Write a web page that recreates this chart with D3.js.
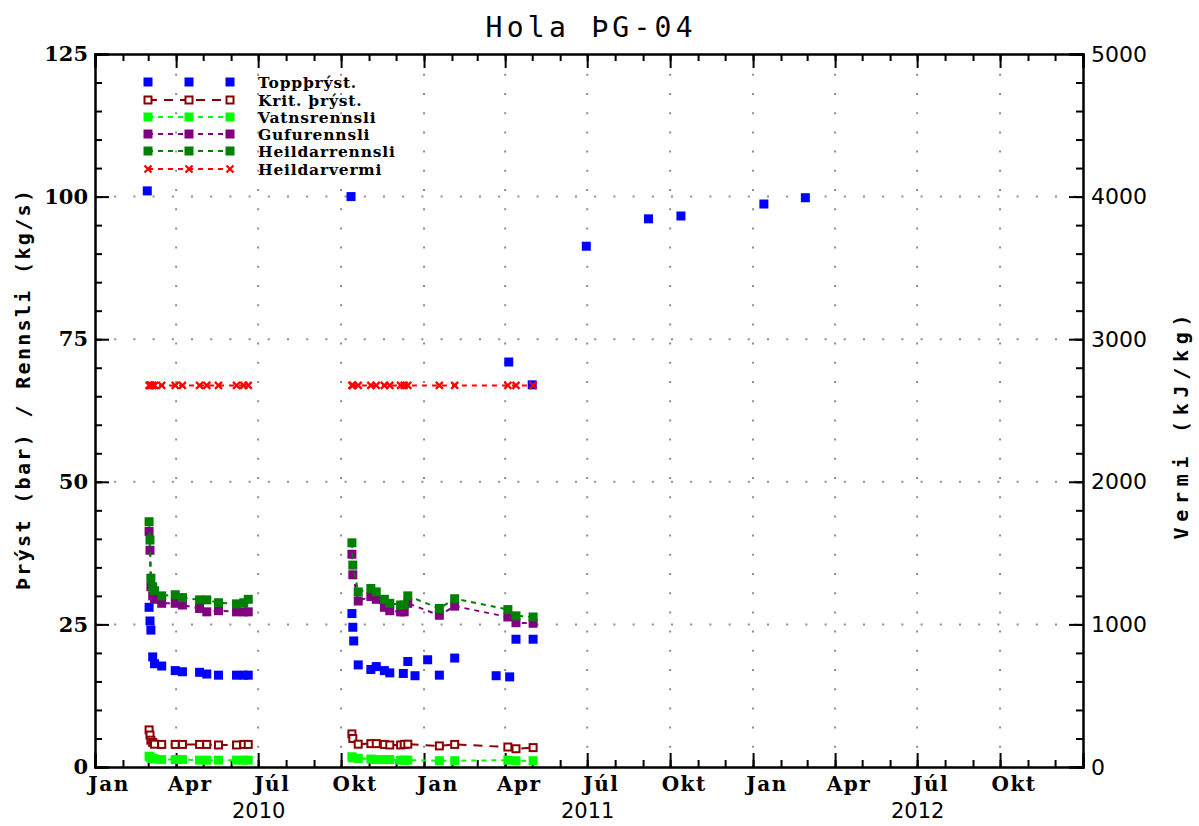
<!DOCTYPE html>
<html>
<head>
<meta charset="utf-8">
<script src="https://cdn.jsdelivr.net/npm/d3@7"></script>
<style>
  body { margin: 0; background: #fff; }
  svg { display: block; }
</style>
</head>
<body>
<svg id="chart" width="1199" height="826"></svg>
<script>
// ---- Data: well ÞG-04 ----
// Wellhead pressure (bar), own measurement dates
const toppDates = [
  "2010-02-28", "2010-03-02", "2010-03-03", "2010-03-04", "2010-03-06", "2010-03-08",
  "2010-03-16", "2010-03-31", "2010-04-08", "2010-04-27", "2010-05-05", "2010-05-18",
  "2010-06-07", "2010-06-15", "2010-06-20",
  "2010-10-12", "2010-10-13", "2010-10-14", "2010-10-15", "2010-10-20", "2010-11-03",
  "2010-11-09", "2010-11-18", "2010-11-24", "2010-12-09", "2010-12-14", "2010-12-22",
  "2011-01-05", "2011-01-18", "2011-02-04", "2011-03-22", "2011-04-05", "2011-04-06",
  "2011-04-13", "2011-05-01", "2011-05-02",
  "2011-06-30", "2011-09-07", "2011-10-13", "2012-01-13", "2012-02-28"
];
const toppValues = [
  101.0, 28.0, 25.6, 24.0, 19.3, 18.1,
  17.7, 16.9, 16.7, 16.6, 16.3, 16.1,
  16.1, 16.1, 16.1,
  100.0, 26.9, 24.5, 22.1, 17.9, 17.1,
  17.6, 16.9, 16.5, 16.4, 18.5, 16.0,
  18.8, 16.1, 19.1, 16.0, 71.0, 15.8,
  22.4, 67.0, 22.4,
  91.3, 96.1, 96.6, 98.7, 99.8
];

// Flow test dates shared by critical pressure, flows and enthalpy
const flowDates = [
  "2010-03-02", "2010-03-03", "2010-03-04", "2010-03-06", "2010-03-08", "2010-03-16",
  "2010-03-31", "2010-04-08", "2010-04-27", "2010-05-05", "2010-05-18", "2010-06-07",
  "2010-06-15", "2010-06-20",
  "2010-10-13", "2010-10-14", "2010-10-20", "2010-11-03", "2010-11-09", "2010-11-18",
  "2010-11-24", "2010-12-06", "2010-12-10", "2010-12-14", "2011-01-18", "2011-02-04",
  "2011-04-04", "2011-04-13", "2011-05-02"
];
const kritValues = [
  6.5, 5.6, 4.7, 4.3, 4.0, 3.96, 3.96, 3.96, 3.96, 3.96, 3.86, 3.86, 3.96, 3.96,
  5.8, 5.0, 4.0, 4.1, 4.1, 3.96, 3.86, 3.86, 3.96, 4.0, 3.7, 3.96, 3.5, 3.2, 3.4
];
const vatnValues = [
  1.9, 1.8, 1.6, 1.5, 1.4, 1.3, 1.3, 1.3, 1.2, 1.2, 1.2, 1.2, 1.2, 1.2,
  1.8, 1.6, 1.5, 1.4, 1.3, 1.3, 1.3, 1.2, 1.2, 1.2, 1.1, 1.1, 1.2, 1.1, 1.1
];
const gufuValues = [
  41.3, 38.0, 31.6, 30.0, 29.4, 28.7, 28.7, 28.4, 27.8, 27.2, 27.4, 27.2, 27.2, 27.2,
  37.3, 33.7, 29.1, 29.9, 29.4, 28.0, 27.4, 27.2, 27.2, 28.7, 26.6, 28.2, 26.3, 25.3, 25.2
];
const heildValues = [
  43.0, 39.8, 33.1, 31.6, 30.9, 30.0, 30.2, 29.7, 29.3, 29.3, 28.8, 28.6, 28.8, 29.4,
  39.3, 35.4, 30.7, 31.3, 30.7, 29.4, 28.7, 28.4, 28.4, 30.0, 27.8, 29.5, 27.6, 26.5, 26.3
];
const vermiValues = [
  2676, 2676, 2676, 2676, 2676, 2676, 2676, 2676, 2676, 2676, 2676, 2676, 2676, 2676,
  2676, 2676, 2676, 2676, 2676, 2676, 2676, 2676, 2676, 2676, 2676, 2676, 2676, 2676, 2676
];

// Axis labels
const monthLabels = ["Jan", "Apr", "Júl", "Okt"];
const yearLabels = ["2010", "2011", "2012"];
const leftTicks = [0, 25, 50, 75, 100, 125];
const rightTicks = [0, 1000, 2000, 3000, 4000, 5000];
const legendNames = ["Toppþrýst.", "Krit. þrýst.", "Vatnsrennsli", "Gufurennsli", "Heildarrennsli", "Heildarvermi"];

// ---- Layout ----
const svg = d3.select("#chart");
const L = 95, R = 1083, T = 54, B = 767;
const parse = d3.utcParse("%Y-%m-%d");
const x = d3.scaleUtc().domain([Date.UTC(2010, 0, 1), Date.UTC(2013, 0, 1)]).range([L, R]);
const yL = d3.scaleLinear().domain([0, 125]).range([B, T]);
const yR = d3.scaleLinear().domain([0, 5000]).range([B, T]);

const serifBold = "'DejaVu Serif', serif";
const monoBold = "'DejaVu Sans Mono', monospace";
const sans = "'DejaVu Sans', sans-serif";

// ---- Grid (dotted) ----
const quarters = d3.utcMonth.every(3).range(new Date(Date.UTC(2010, 0, 1)), new Date(Date.UTC(2013, 0, 1)))
  .filter(d => +d !== Date.UTC(2010, 0, 1));
const grid = svg.append("g").attr("stroke", "#8c8c8c").attr("stroke-width", 2)
  .attr("stroke-dasharray", "2,17.2");
grid.selectAll("line.v").data(quarters).join("line").attr("class", "v")
  .attr("x1", d => x(d)).attr("x2", d => x(d)).attr("y1", B).attr("y2", T);
grid.selectAll("line.h").data([25, 50, 75, 100]).join("line").attr("class", "h")
  .attr("x1", L).attr("x2", R).attr("y1", d => yL(d)).attr("y2", d => yL(d));

// ---- Axes ----
function styleAxis(g) {
  g.select(".domain").attr("stroke", "#000").attr("stroke-width", 2);
  g.selectAll(".tick line").attr("stroke", "#000").attr("stroke-width", 2);
}
const months = d3.utcMonth.range(new Date(Date.UTC(2010, 0, 1)), new Date(Date.UTC(2013, 0, 2)));
const quartersAll = d3.utcMonth.every(3).range(new Date(Date.UTC(2010, 0, 1)), new Date(Date.UTC(2013, 0, 2)));

// bottom: monthly minor ticks and quarterly major ticks pointing inward
svg.append("g").attr("transform", `translate(0,${B})`)
  .call(d3.axisBottom(x).tickValues(months).tickSize(-7).tickFormat(""))
  .call(styleAxis);
svg.append("g").attr("transform", `translate(0,${B})`)
  .call(d3.axisBottom(x).tickValues(quartersAll).tickSize(-14).tickFormat(""))
  .call(styleAxis);
// top
svg.append("g").attr("transform", `translate(0,${T})`)
  .call(d3.axisTop(x).tickValues(months).tickSize(-7).tickFormat(""))
  .call(styleAxis);
svg.append("g").attr("transform", `translate(0,${T})`)
  .call(d3.axisTop(x).tickValues(quartersAll).tickSize(-14).tickFormat(""))
  .call(styleAxis);

// month labels centred in the middle of the quarter's first month
const labelDates = quarters.concat([new Date(Date.UTC(2010, 0, 1))])
  .filter(d => d < Date.UTC(2013, 0, 1))
  .map(d => d3.utcDay.offset(d, 15));
const monthAxis = svg.append("g").attr("transform", `translate(0,${B})`)
  .call(d3.axisBottom(x).tickValues(labelDates).tickSize(0).tickPadding(10)
    .tickFormat(d => monthLabels[Math.floor(d.getUTCMonth() / 3)]));
monthAxis.select(".domain").remove();
monthAxis.selectAll("text").attr("font-family", serifBold).attr("font-weight", "bold")
  .attr("font-size", 20).attr("letter-spacing", 1.5).attr("fill", "#000");

// year labels at mid-year
const yearDates = yearLabels.map(y => new Date(Date.UTC(+y, 6, 1)));
const yearAxis = svg.append("g").attr("transform", `translate(0,${B})`)
  .call(d3.axisBottom(x).tickValues(yearDates).tickSize(0).tickPadding(36)
    .tickFormat((d, i) => yearLabels[i]));
yearAxis.select(".domain").remove();
yearAxis.selectAll("text").attr("font-family", sans).attr("font-size", 21).attr("fill", "#000");

// left axis
const minorLeft = d3.range(0, 126, 5);
svg.append("g").attr("transform", `translate(${L},0)`)
  .call(d3.axisLeft(yL).tickValues(minorLeft).tickSize(-7).tickFormat(""))
  .call(styleAxis);
const leftAxis = svg.append("g").attr("transform", `translate(${L},0)`)
  .call(d3.axisLeft(yL).tickValues(leftTicks).tickSize(-14).tickPadding(7).tickFormat(d3.format("d")))
  .call(styleAxis);
leftAxis.selectAll("text").attr("font-family", serifBold).attr("font-weight", "bold")
  .attr("font-size", 21).attr("fill", "#000");

// right axis
const minorRight = d3.range(0, 5001, 200);
svg.append("g").attr("transform", `translate(${R},0)`)
  .call(d3.axisRight(yR).tickValues(minorRight).tickSize(-7).tickFormat(""))
  .call(styleAxis);
const rightAxis = svg.append("g").attr("transform", `translate(${R},0)`)
  .call(d3.axisRight(yR).tickValues(rightTicks).tickSize(-14).tickPadding(8).tickFormat(d3.format("d")))
  .call(styleAxis);
rightAxis.selectAll("text").attr("font-family", sans).attr("font-size", 22).attr("fill", "#000");

// ---- Titles ----
svg.append("text").attr("x", 589).attr("y", 37).attr("text-anchor", "middle")
  .attr("font-family", monoBold).attr("font-size", 28)
  .attr("textLength", 207).attr("lengthAdjust", "spacing")
  .text("Hola ÞG-04");
svg.append("text").attr("transform", "translate(30,390) rotate(-90)").attr("text-anchor", "middle")
  .attr("font-family", monoBold).attr("font-weight", "bold").attr("font-size", 20)
  .attr("textLength", 400).attr("lengthAdjust", "spacing")
  .text("Þrýst (bar) / Rennsli (kg/s)");
svg.append("text").attr("transform", "translate(1188,427) rotate(-90)").attr("text-anchor", "middle")
  .attr("font-family", monoBold).attr("font-weight", "bold").attr("font-size", 20)
  .attr("textLength", 225).attr("lengthAdjust", "spacing")
  .text("Vermi (kJ/kg)");

// ---- Series ----
const toRows = (dates, vals) => dates.map((d, i) => ({ date: parse(d), v: vals[i] }));
// split a series into segments where the gap between tests exceeds 60 days
function segments(rows) {
  const out = [];
  let cur = [];
  rows.forEach((r, i) => {
    if (i > 0 && (r.date - rows[i - 1].date) > 60 * 864e5) { out.push(cur); cur = []; }
    cur.push(r);
  });
  if (cur.length) out.push(cur);
  return out;
}

const series = [
  { name: legendNames[0], rows: toRows(toppDates, toppValues), y: yL, color: "#0000ff", marker: "square", dash: null },
  { name: legendNames[1], rows: toRows(flowDates, kritValues), y: yL, color: "#8b0000", marker: "open", dash: "9,7" },
  { name: legendNames[2], rows: toRows(flowDates, vatnValues), y: yL, color: "#00ff00", marker: "square", dash: "5,5" },
  { name: legendNames[3], rows: toRows(flowDates, gufuValues), y: yL, color: "#800080", marker: "square", dash: "5,5" },
  { name: legendNames[4], rows: toRows(flowDates, heildValues), y: yL, color: "#008000", marker: "square", dash: "5,5" },
  { name: legendNames[5], rows: toRows(flowDates, vermiValues), y: yR, color: "#ff0000", marker: "cross", dash: "5,5" }
];

function drawMarker(g, kind, color) {
  if (kind === "square") {
    g.append("rect").attr("x", -4.5).attr("y", -4.5).attr("width", 9).attr("height", 9).attr("fill", color);
  } else if (kind === "open") {
    g.append("rect").attr("x", -3.5).attr("y", -3.5).attr("width", 7).attr("height", 7)
      .attr("fill", "#fff").attr("stroke", color).attr("stroke-width", 2);
  } else {
    g.append("path").attr("d", "M-3.5,-3.5L3.5,3.5M-3.5,3.5L3.5,-3.5").attr("stroke", color).attr("stroke-width", 2.2).attr("fill", "none");
  }
}

const plot = svg.append("g");
series.forEach(s => {
  const g = plot.append("g");
  if (s.dash) {
    const line = d3.line().x(d => x(d.date)).y(d => s.y(d.v));
    g.selectAll("path.seg").data(segments(s.rows)).join("path").attr("class", "seg")
      .attr("d", line).attr("fill", "none").attr("stroke", s.color)
      .attr("stroke-width", 2).attr("stroke-dasharray", s.dash);
  }
  g.selectAll("g.pt").data(s.rows).join("g").attr("class", "pt")
    .attr("transform", d => `translate(${x(d.date)},${s.y(d.v)})`)
    .each(function () { drawMarker(d3.select(this), s.marker, s.color); });
});

// ---- Legend ----
const legendY = [82, 100, 117, 134, 151, 169];
const legendX = [148, 189, 230];
const legend = svg.append("g");
series.forEach((s, i) => {
  const row = legend.append("g").attr("transform", `translate(0,${legendY[i]})`);
  if (s.dash) {
    row.append("line").attr("x1", legendX[0]).attr("x2", legendX[2]).attr("y1", 0).attr("y2", 0)
      .attr("stroke", s.color).attr("stroke-width", 2).attr("stroke-dasharray", s.dash);
  }
  legendX.forEach(lx => drawMarker(row.append("g").attr("transform", `translate(${lx},0)`), s.marker, s.color));
  row.append("text").attr("x", 258).attr("y", 5.5).attr("font-family", serifBold).attr("font-weight", "bold")
    .attr("font-size", 15.5).attr("letter-spacing", 0.8).attr("fill", "#000").text(s.name);
});
</script>
</body>
</html>
